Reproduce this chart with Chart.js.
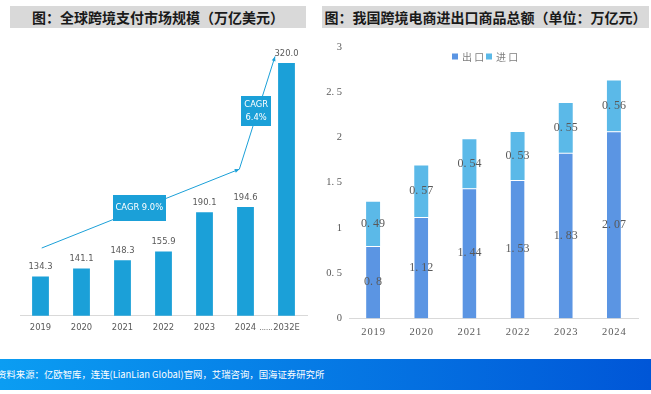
<!DOCTYPE html>
<html>
<head>
<meta charset="utf-8">
<script src="https://cdn.jsdelivr.net/npm/chart.js@4"></script>
<style>
  html, body { margin: 0; padding: 0; background: #fff; }
  body { width: 651px; height: 394px; position: relative; overflow: hidden; font-family: "Noto Sans CJK SC", sans-serif; }
  .title { position: absolute; top: 6px; height: 22px; background: #d9d9d9; color: #1a1a1a; font-weight: bold; font-size: 14px; line-height: 22px; text-align: center; white-space: nowrap; }
  #t1 { left: 10px; width: 296px; }
  #t2 { left: 322px; width: 327px; }
  .cv { position: absolute; top: 30px; }
  #c1wrap { left: 0; width: 320px; height: 320px; }
  #c2wrap { left: 320px; width: 331px; height: 320px; }
  #footer { position: absolute; left: 0; top: 359px; width: 651px; height: 31px; background: linear-gradient(90deg, #0b9df2, #0056d7); color: #fff; font-size: 9.4px; line-height: 31px; white-space: nowrap; }
  #footer span { position: relative; left: -3px; }
</style>
</head>
<body>
<div class="title" id="t1">图：全球跨境支付市场规模（万亿美元）</div>
<div class="title" id="t2">图：我国跨境电商进出口商品总额（单位：万亿元）</div>
<div class="cv" id="c1wrap"><canvas id="c1" width="320" height="320"></canvas></div>
<div class="cv" id="c2wrap"><canvas id="c2" width="331" height="320"></canvas></div>
<div id="footer"><span>资料来源：亿欧智库，连连(LianLian Global)官网，艾瑞咨询，国海证券研究所</span></div>
<script>
// ---- Left chart data ----
const payYears = ["2019", "2020", "2021", "2022", "2023", "2024", "2032E"];
const payValues = [134.3, 141.1, 148.3, 155.9, 190.1, 194.6, 320.0];
// CAGR annotation path, in (category index, value) coordinates
const cagrPath1 = [[0.03, 159.0], [4.85, 227.6]];
const cagrPath2 = [[4.85, 227.6], [5.72, 325.7]];
const cagrLabel1 = { at: [2.41, 193.8], lines: ["CAGR 9.0%"] };
const cagrLabel2 = { at: [5.26, 278.0], lines: ["CAGR", "6.4%"] };

// ---- Right chart data ----
const tradeYears = ["2019", "2020", "2021", "2022", "2023", "2024"];
const exportValues = [0.8, 1.12, 1.44, 1.53, 1.83, 2.07];
const importValues = [0.49, 0.57, 0.54, 0.53, 0.55, 0.56];
const seriesNames = ["出口", "进口"];

const narrow = '"Liberation Sans Narrow", "DejaVu Sans Condensed", sans-serif';
const serif = '"Liberation Serif", "DejaVu Serif", serif';
const blue = '#1ba0d8';
const narrowSize = 9.3;

function spaced(v) { return String(v).replace('.', '. '); }

const leftPlugin = {
  id: 'leftAnno',
  afterDatasetsDraw(chart) {
    const ctx = chart.ctx, xs = chart.scales.x, ys = chart.scales.y;
    const meta = chart.getDatasetMeta(0);
    ctx.save();
    // value labels
    ctx.font = narrowSize + 'px ' + narrow;
    ctx.fillStyle = '#595959';
    ctx.textAlign = 'center';
    ctx.textBaseline = 'bottom';
    meta.data.forEach((bar, i) => {
      ctx.fillText(payValues[i].toFixed(1), bar.x, bar.y - 5);
    });
    // arrows
    const P = p => [xs.getPixelForValue(p[0]), ys.getPixelForValue(p[1])];
    function arrow(path) {
      const a = P(path[0]), b = P(path[1]);
      ctx.strokeStyle = blue; ctx.fillStyle = blue; ctx.lineWidth = 1;
      ctx.beginPath(); ctx.moveTo(a[0], a[1]); ctx.lineTo(b[0], b[1]); ctx.stroke();
      const ang = Math.atan2(b[1] - a[1], b[0] - a[0]);
      ctx.beginPath();
      ctx.moveTo(b[0], b[1]);
      ctx.lineTo(b[0] - 5 * Math.cos(ang - 0.4), b[1] - 5 * Math.sin(ang - 0.4));
      ctx.lineTo(b[0] - 5 * Math.cos(ang + 0.4), b[1] - 5 * Math.sin(ang + 0.4));
      ctx.closePath(); ctx.fill();
    }
    arrow(cagrPath1);
    arrow(cagrPath2);
    function box(lbl, w, h) {
      const c = P(lbl.at);
      ctx.fillStyle = blue;
      ctx.fillRect(Math.round(c[0] - w / 2), Math.round(c[1] - h / 2), w, h);
      ctx.fillStyle = '#fff';
      ctx.font = narrowSize + 'px ' + narrow;
      ctx.textBaseline = 'middle';
      const lh = 13;
      lbl.lines.forEach((t, k) => {
        ctx.fillText(t, c[0], c[1] + (k - (lbl.lines.length - 1) / 2) * lh);
      });
    }
    box(cagrLabel1, 53, 26);
    box(cagrLabel2, 30, 30);
    // dots between 2024 and 2032E
    ctx.fillStyle = '#595959';
    ctx.font = '7.5px ' + narrow;
    ctx.textBaseline = 'middle';
    ctx.fillText('......', xs.getPixelForValue(5.5), xs.top + 12);
    ctx.restore();
  }
};

new Chart(document.getElementById('c1'), {
  type: 'bar',
  data: {
    labels: payYears,
    datasets: [{ data: payValues, backgroundColor: blue, barPercentage: 0.41, categoryPercentage: 1 }]
  },
  options: {
    responsive: false, animation: false,
    layout: { padding: { left: 20, right: 13, top: 10, bottom: 10 } },
    plugins: { legend: { display: false }, tooltip: { enabled: false } },
    scales: {
      x: {
        grid: { display: false, drawTicks: false },
        border: { color: '#d9d9d9', width: 1 },
        ticks: { color: '#595959', font: { family: narrow, size: narrowSize }, padding: 6.5 }
      },
      y: { display: false, min: 100, max: 340 }
    }
  },
  plugins: [leftPlugin]
});

const rightPlugin = {
  id: 'rightAnno',
  afterDatasetsDraw(chart) {
    const ctx = chart.ctx;
    ctx.save();
    ctx.font = '12px ' + serif;
    ctx.fillStyle = '#595959';
    ctx.textAlign = 'center';
    ctx.textBaseline = 'middle';
    const sets = [exportValues, importValues];
    sets.forEach((vals, d) => {
      chart.getDatasetMeta(d).data.forEach((bar, i) => {
        ctx.fillText(spaced(vals[i]), bar.x, (bar.y + bar.base) / 2);
      });
    });
    // legend
    const colors = chart.data.datasets.map(ds => ds.backgroundColor);
    const cx = (chart.chartArea.left + chart.chartArea.right) / 2;
    let x = cx - 41.5, y = 26.5;
    ctx.textAlign = 'left';
    ctx.font = '10px "Noto Sans CJK SC", sans-serif';
    seriesNames.forEach((n, k) => {
      ctx.fillStyle = colors[k];
      ctx.fillRect(x, y - 3, 6, 6);
      ctx.fillStyle = '#7f7f7f';
      ctx.fillText(n.split('').join(' '), x + 10, y + 0.5);
      x += 34;
    });
    ctx.restore();
  }
};

new Chart(document.getElementById('c2'), {
  type: 'bar',
  data: {
    labels: tradeYears,
    datasets: [
      { label: seriesNames[0], data: exportValues, backgroundColor: '#5b95e3', borderColor: 'rgba(255,255,255,0.55)', borderWidth: { top: 1, left: 0, right: 0, bottom: 0 }, borderSkipped: false, barPercentage: 0.29, categoryPercentage: 1 },
      { label: seriesNames[1], data: importValues, backgroundColor: '#5bb9e8', barPercentage: 0.29, categoryPercentage: 1 }
    ]
  },
  options: {
    responsive: false, animation: false,
    layout: { padding: { left: 0, right: 13, top: 17, bottom: 3 } },
    plugins: { legend: { display: false }, tooltip: { enabled: false } },
    scales: {
      x: {
        stacked: true,
        grid: { display: false, drawTicks: false },
        border: { color: '#d9d9d9', width: 1 },
        ticks: { color: '#595959', font: { family: serif, size: 10.5 }, padding: 8, callback: function(v) { return this.getLabelForValue(v).split('').join('\u200a'); } }
      },
      y: {
        stacked: true, min: 0, max: 3,
        grid: { display: false, drawTicks: false },
        border: { display: false },
        ticks: { stepSize: 0.5, color: '#595959', font: { family: serif, size: 10.5 }, padding: 7, callback: v => spaced(v) },
        afterFit: axis => { axis.width = 29; }
      }
    }
  },
  plugins: [rightPlugin]
});
</script>
</body>
</html>
